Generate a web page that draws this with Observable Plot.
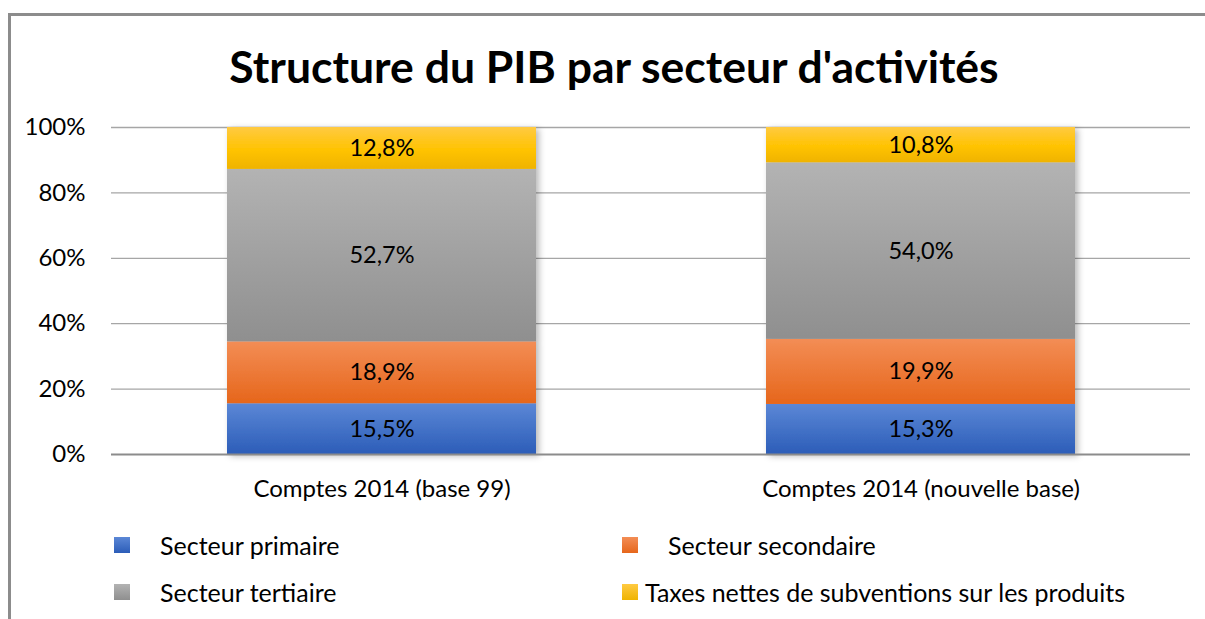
<!DOCTYPE html>
<html>
<head>
<meta charset="utf-8">
<script src="https://cdn.jsdelivr.net/npm/d3@7"></script>
<script src="https://cdn.jsdelivr.net/npm/@observablehq/plot@0.6"></script>
<style>
  html, body { margin: 0; padding: 0; background: #fff; }
  #wrap { position: relative; width: 1205px; height: 619px; overflow: hidden; font-family: Lato, "Open Sans", sans-serif; color: #000; }
  #frame { position: absolute; left: 8px; top: 13px; width: 1300px; height: 700px; border-left: 3px solid #8c8c8c; border-top: 3px solid #8c8c8c; box-sizing: border-box; }
  #title { position: absolute; left: 0; width: 1228px; top: 37px; text-align: center; font-weight: bold; font-size: 44.5px; line-height: 58px; }
  #chart { position: absolute; left: 0; top: 100px; }
  .leg { position: absolute; font-size: 25px; line-height: 30px; white-space: nowrap; }
  .sw { position: absolute; width: 16px; height: 16px; }
</style>
</head>
<body>
<svg width="0" height="0" style="position:absolute">
  <defs>
    <linearGradient id="gBlue" x1="0" y1="0" x2="0" y2="1">
      <stop offset="0" stop-color="#5b87d6"/><stop offset="1" stop-color="#2c5db8"/>
    </linearGradient>
    <linearGradient id="gOrange" x1="0" y1="0" x2="0" y2="1">
      <stop offset="0" stop-color="#f38d55"/><stop offset="1" stop-color="#e6661b"/>
    </linearGradient>
    <linearGradient id="gGray" x1="0" y1="0" x2="0" y2="1">
      <stop offset="0" stop-color="#b3b3b3"/><stop offset="1" stop-color="#8f8f8f"/>
    </linearGradient>
    <linearGradient id="gYellow" x1="0" y1="0" x2="0" y2="1">
      <stop offset="0" stop-color="#ffca42"/><stop offset="0.55" stop-color="#ffc300"/><stop offset="1" stop-color="#efb300"/>
    </linearGradient>
    <filter id="shadow" x="-10%" y="-10%" width="130%" height="130%">
      <feDropShadow dx="3" dy="2" stdDeviation="3" flood-color="#000" flood-opacity="0.28"/>
    </filter>
  </defs>
</svg>
<div id="wrap">
  <div id="frame"></div>
  <div id="title">Structure du PIB par secteur d'activités</div>
  <div id="chart"></div>
</div>
<script>
// ---- data ----
const categories = ["Comptes 2014 (base 99)", "Comptes 2014 (nouvelle base)"];
const series = ["Secteur primaire", "Secteur secondaire", "Secteur tertiaire", "Taxes nettes de subventions sur les produits"];
const base99 = [15.5, 18.9, 52.7, 12.8];
const nouvelleBase = [15.3, 19.9, 54.0, 10.8];
const yTicks = [0, 0.2, 0.4, 0.6, 0.8, 1.0];
const fills = ["url(#gBlue)", "url(#gOrange)", "url(#gGray)", "url(#gYellow)"];

const rows = [];
[base99, nouvelleBase].forEach((vals, ci) => {
  vals.forEach((v, si) => rows.push({category: categories[ci], series: series[si], value: v}));
});
const fmt = v => v.toFixed(1).replace(".", ",") + "%";

const chart = Plot.plot({
  width: 1205,
  height: 404,
  marginTop: 27,
  marginBottom: 50,
  marginLeft: 111,
  marginRight: 15,
  style: {fontFamily: "Lato, 'Open Sans', sans-serif", fontSize: "24px", color: "#000", background: "transparent"},
  x: {domain: categories, paddingInner: 0.427, paddingOuter: 0.2135, label: null, tickSize: 0, tickPadding: 25, fontSize: 25},
  y: {domain: [0, 1], ticks: yTicks, tickFormat: d3.format(".0%"), label: null, tickSize: 0, tickPadding: 26},
  color: {domain: series, range: fills},
  marks: [
    Plot.ruleY(yTicks.slice(1), {stroke: "#a6a6a6", strokeWidth: 1.3, strokeOpacity: 1}),
    Plot.ruleX([categories[0]], {x: () => null, y1: 0, y2: 1, stroke: "#a6a6a6"}),
    Plot.barY(rows, Plot.stackY({offset: "normalize", x: "category", y: "value", z: "series", fill: "series"})),
    Plot.text(rows, Plot.stackY({offset: "normalize", x: "category", y: "value", z: "series", text: d => fmt(d.value), fill: "#000", fontSize: 23.5})),
    Plot.ruleY([0], {stroke: "#8c8c8c", strokeWidth: 2})
  ]
});
document.getElementById("chart").appendChild(chart);
// shadow on bars
const barG = chart.querySelector('g[aria-label="bar"]');
if (barG) barG.setAttribute("filter", "url(#shadow)");

// legend
const wrap = document.getElementById("wrap");
const legendPos = [
  {sx: 114, sy: 537, tx: 160, ty: 530},
  {sx: 622, sy: 537, tx: 668, ty: 530},
  {sx: 114, sy: 584, tx: 160, ty: 577},
  {sx: 622, sy: 584, tx: 645, ty: 577}
];
const swatchBg = [
  "linear-gradient(#5b87d6, #2c5db8)",
  "linear-gradient(#f38d55, #e6661b)",
  "linear-gradient(#b3b3b3, #8f8f8f)",
  "linear-gradient(#ffca42, #efb300)"
];
series.forEach((s, i) => {
  const p = legendPos[i];
  const sw = document.createElement("div");
  sw.className = "sw"; sw.style.left = p.sx + "px"; sw.style.top = p.sy + "px"; sw.style.background = swatchBg[i];
  wrap.appendChild(sw);
  const t = document.createElement("div");
  t.className = "leg"; t.style.left = p.tx + "px"; t.style.top = p.ty + "px"; t.textContent = s;
  wrap.appendChild(t);
});
</script>
</body>
</html>
